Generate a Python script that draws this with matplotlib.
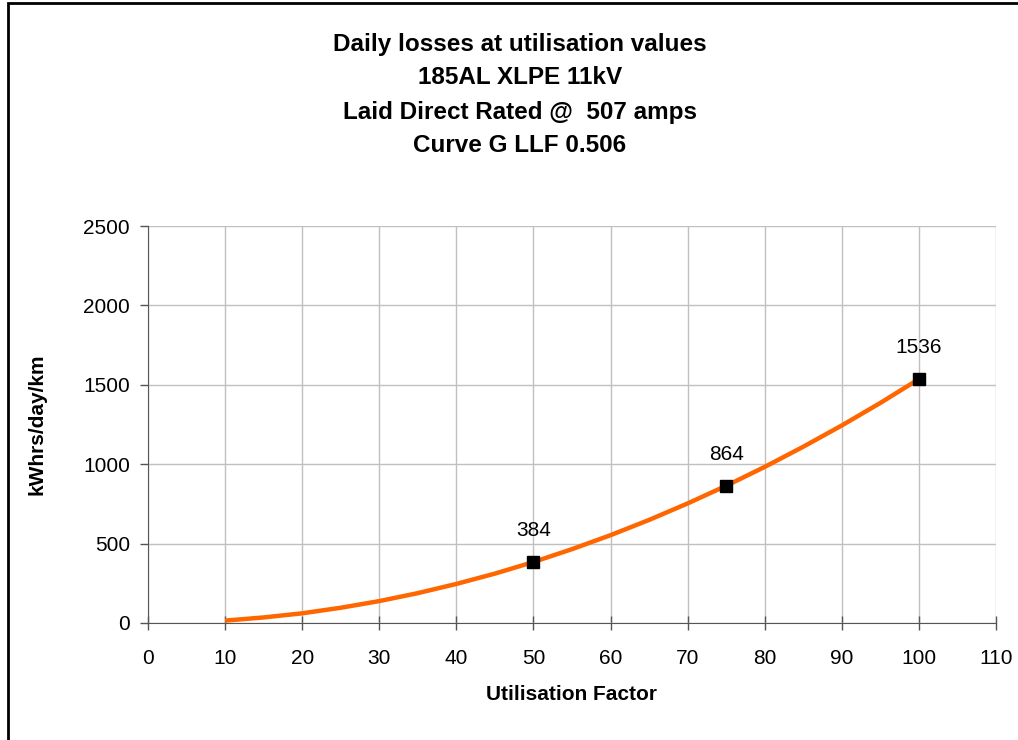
import matplotlib
matplotlib.use('Agg')
import matplotlib.pyplot as plt
from matplotlib.patches import Rectangle

plt.rcParams['font.family'] = ['Liberation Sans', 'DejaVu Sans']

# curve
util = [10, 15, 20, 25, 30, 35, 40, 45, 50, 55, 60, 65, 70, 75, 80, 85, 90, 95, 100]
losses = [15, 35, 61, 96, 138, 188, 246, 311, 384, 465, 553, 649, 753, 864, 983, 1110, 1244, 1386, 1536]

# marked points
mark_x = [50, 75, 100]
mark_y = [384, 864, 1536]

title_lines = ["Daily losses at utilisation values", "185AL XLPE 11kV",
               "Laid Direct Rated @  507 amps", "Curve G LLF 0.506"]

fig = plt.figure(figsize=(10.18, 7.4), dpi=100)
ax = fig.add_axes([148 / 1018, 117 / 740, 848 / 1018, 397 / 740])

ax.plot(util, losses, color='#FF6600', lw=3.2, zorder=3, solid_capstyle='butt')
ax.plot(mark_x, mark_y, ls='none', marker='s', ms=8.5, color='black', zorder=4)
for x, y in zip(mark_x, mark_y):
    ax.annotate(str(y), (x, y), xytext=(0, 16), textcoords='offset points',
                ha='center', va='bottom', fontsize=15)

ax.set_xlim(0, 110)
ax.set_ylim(0, 2500)
ax.set_xticks(range(0, 111, 10))
ax.set_yticks(range(0, 2501, 500))
ax.grid(True, color='#c0c0c0', lw=1)
ax.set_axisbelow(True)
for s in ['top', 'right']:
    ax.spines[s].set_visible(False)
for s in ['left', 'bottom']:
    ax.spines[s].set_color('#555555')
ax.tick_params(labelsize=15, colors='black', length=6, width=1, pad=7)
ax.tick_params(axis='both', color='#555555')
ax.tick_params(axis='y', direction='out')
ax.tick_params(axis='x', direction='inout', length=10, pad=14)

ax.set_xlabel('Utilisation Factor', fontsize=15, fontweight='bold', labelpad=12)
ax.set_ylabel('kWhrs/day/km', fontsize=15, fontweight='bold', labelpad=26)

for i, line in enumerate(title_lines):
    fig.text(520 / 1018, 1 - (44 + i * 34) / 740, line, ha='center', va='center',
             fontsize=17.5, fontweight='bold')

fig.patches.append(Rectangle((8 / 1018, -0.1), 1.2, 1.1 - 3 / 740, transform=fig.transFigure,
                             fill=False, ec='black', lw=2))

fig.savefig('out.png', dpi=100)
